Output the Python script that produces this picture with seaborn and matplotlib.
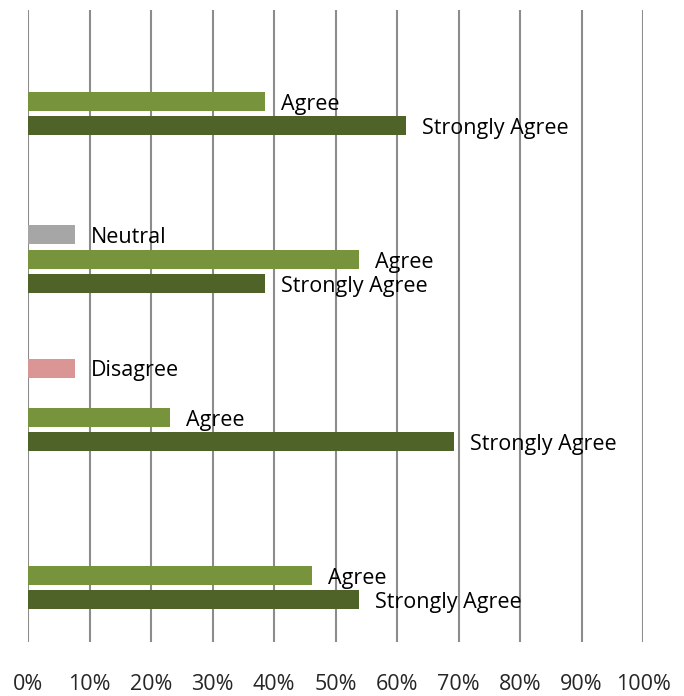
import matplotlib
matplotlib.use("Agg")
import matplotlib.pyplot as plt
import matplotlib.colors as mcolors
import seaborn as sns
import pandas as pd

questions = ["Q1", "Q2", "Q3", "Q4"]
responses = ["Strongly Disagree", "Disagree", "Neutral", "Agree", "Strongly Agree", "No Answer"]
strongly_disagree = [None, None, None, None]
disagree = [None, None, 7.7, None]
neutral = [None, 7.7, None, None]
agree = [38.5, 53.8, 23.1, 46.2]
strongly_agree = [61.5, 38.5, 69.2, 53.8]
no_answer = [None, None, None, None]
ticks = list(range(0, 101, 10))
tick_labels = [f"{t}%" for t in ticks]

colors = {
    "Strongly Disagree": "#C0504D",
    "Disagree": "#D99694",
    "Neutral": "#A6A6A6",
    "Agree": "#77933C",
    "Strongly Agree": "#4F6228",
    "No Answer": "#4F81BD",
}

series = dict(zip(responses, [strongly_disagree, disagree, neutral, agree, strongly_agree, no_answer]))
rows = []
for resp, vals in series.items():
    for q, v in zip(questions, vals):
        if v is not None:
            rows.append({"question": q, "response": resp, "pct": v})
df = pd.DataFrame(rows)

sns.set_style("white")
plt.rcParams["font.family"] = ["Open Sans", "DejaVu Sans"]

fig = plt.figure(figsize=(6.84, 6.96), dpi=100)
ax = fig.add_axes([28 / 684, 1 - 642 / 696, 615 / 684, 632 / 696])

sns.barplot(data=df, x="pct", y="question", hue="response", hue_order=responses,
            order=questions, palette=colors, orient="h", width=0.934, gap=0.23,
            saturation=1, errorbar=None, legend=False, linewidth=0, ax=ax)

# label each bar with its response name, matched by colour
lookup = {mcolors.to_hex(c): r for r, c in colors.items()}
for patch in ax.patches:
    name = lookup.get(mcolors.to_hex(patch.get_facecolor()))
    if name is None or patch.get_width() == 0:
        continue
    ax.annotate(name, (patch.get_width(), patch.get_y() + patch.get_height() / 2),
                xytext=(11.5, -2), textcoords="offset points", va="center", ha="left",
                fontsize=15.5, color="black")

ax.set_xlim(0, 100)
ax.set_xticks(ticks)
ax.set_xticklabels(tick_labels, fontsize=15.5)
ax.set_yticks([])
ax.set_xlabel("")
ax.set_ylabel("")
ax.grid(axis="x", color="#8C8C8C", linewidth=1.5)
ax.set_axisbelow(True)
for s in ax.spines.values():
    s.set_visible(False)
ax.tick_params(axis="x", length=0, pad=23)

fig.savefig("out.png", dpi=100)
